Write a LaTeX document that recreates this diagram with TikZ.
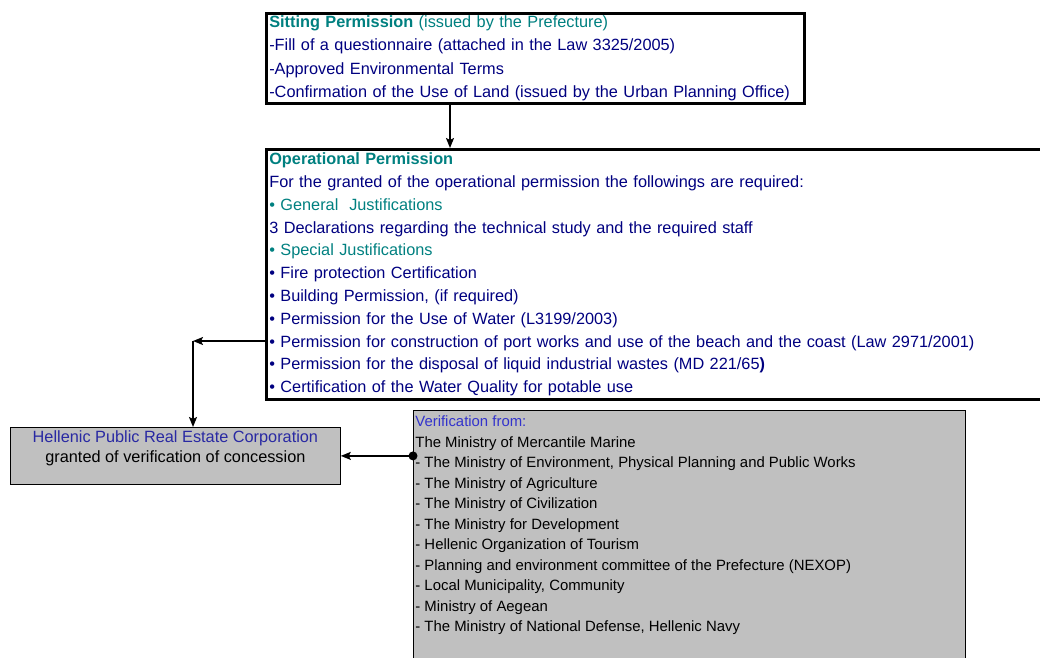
\documentclass[tikz,border=0pt]{standalone}
\usepackage{fontspec}
\setmainfont{Liberation Sans}
\usetikzlibrary{arrows.meta, positioning}

\definecolor{permteal}{RGB}{0,128,128}
\definecolor{permnavy}{RGB}{0,0,128}
\definecolor{verblue}{RGB}{51,51,204}
\definecolor{boxgray}{RGB}{192,192,192}

\tikzset{
    permbox/.style={draw, line width=2.6pt, anchor=north west, align=left,
        inner xsep=3pt, inner ysep=3.5pt, text=permnavy,
        font=\fontsize{16.3}{22.8}\selectfont},
    graybox/.style={draw, line width=0.8pt, fill=boxgray, anchor=north west,
        inner sep=0pt},
    link/.style={-{Stealth[length=10pt, width=8pt, inset=2pt]}, line width=1.6pt}
}

\begin{document}
\begin{tikzpicture}[x=1pt, y=-1pt]
    \path[use as bounding box, clip] (0,0) rectangle (1040,657);

    % Sitting permission
    \node[permbox, text width=532pt, inner ysep=2.5pt,
          font=\fontsize{16.3}{23.3}\selectfont] (sitting) at (265,12)
        {\textcolor{permteal}{\textbf{Sitting Permission} (issued by the Prefecture)}\\
         -Fill of a questionnaire (attached in the Law 3325/2005)\\
         -Approved Environmental Terms\\
         -Confirmation of the Use of Land (issued by the Urban Planning Office)};

    % Operational permission
    \node[permbox, text width=775pt] (operational) at (265,148)
        {\textcolor{permteal}{\textbf{Operational Permission}}\\
         For the granted of the operational permission the followings are required:\\
         \textcolor{permteal}{\textbullet\ General\ \ Justifications}\\
         3 Declarations regarding the technical study and the required staff\\
         \textcolor{permteal}{\textbullet\ Special Justifications}\\
         \textbullet\ Fire protection Certification\\
         \textbullet\ Building Permission, (if required)\\
         \textbullet\ Permission for the Use of Water (L3199/2003)\\
         \textbullet\ Permission for construction of port works and use of the beach and the coast (Law 2971/2001)\\
         \textbullet\ Permission for the disposal of liquid industrial wastes (MD 221/65\textbf{)}\\
         \textbullet\ Certification of the Water Quality for potable use};

    % Real estate corporation
    \node[graybox] (hellenic) at (10,427)
        {\parbox[t][57pt][t]{330pt}{\centering\fontsize{16.3}{20}\selectfont
         \vspace{3pt}\textcolor{verblue!80!black}{Hellenic Public Real Estate Corporation}\\
         granted of verification of concession}};

    % Verifying bodies
    \node[graybox] (verification) at (413,410)
        {\parbox[t][252pt][t]{552pt}{\fontsize{14.9}{20.5}\selectfont
         \vspace{5.5pt}\hspace*{2pt}\textcolor{verblue}{Verification from:}\\
         \hspace*{2pt}The Ministry of Mercantile Marine\\
         \hspace*{2pt}- The Ministry of Environment, Physical Planning and Public Works\\
         \hspace*{2pt}- The Ministry of Agriculture\\
         \hspace*{2pt}- The Ministry of Civilization\\
         \hspace*{2pt}- The Ministry for Development\\
         \hspace*{2pt}- Hellenic Organization of Tourism\\
         \hspace*{2pt}- Planning and environment committee of the Prefecture (NEXOP)\\
         \hspace*{2pt}- Local Municipality, Community\\
         \hspace*{2pt}- Ministry of Aegean\\
         \hspace*{2pt}- The Ministry of National Defense, Hellenic Navy}};

    % Connectors
    \coordinate (drop) at (450,0);
    \coordinate (corner) at (193,341);
    \draw[link] (sitting.south -| drop) -- (operational.north -| drop);
    \draw[link] (operational.west |- corner) -- (corner);
    \draw[link] (corner) -- (corner |- hellenic.north);
    \draw[link] (verification.west |- hellenic.east) -- (hellenic.east);
    \fill (verification.west |- hellenic.east) circle (4.5pt);
\end{tikzpicture}
\end{document}
